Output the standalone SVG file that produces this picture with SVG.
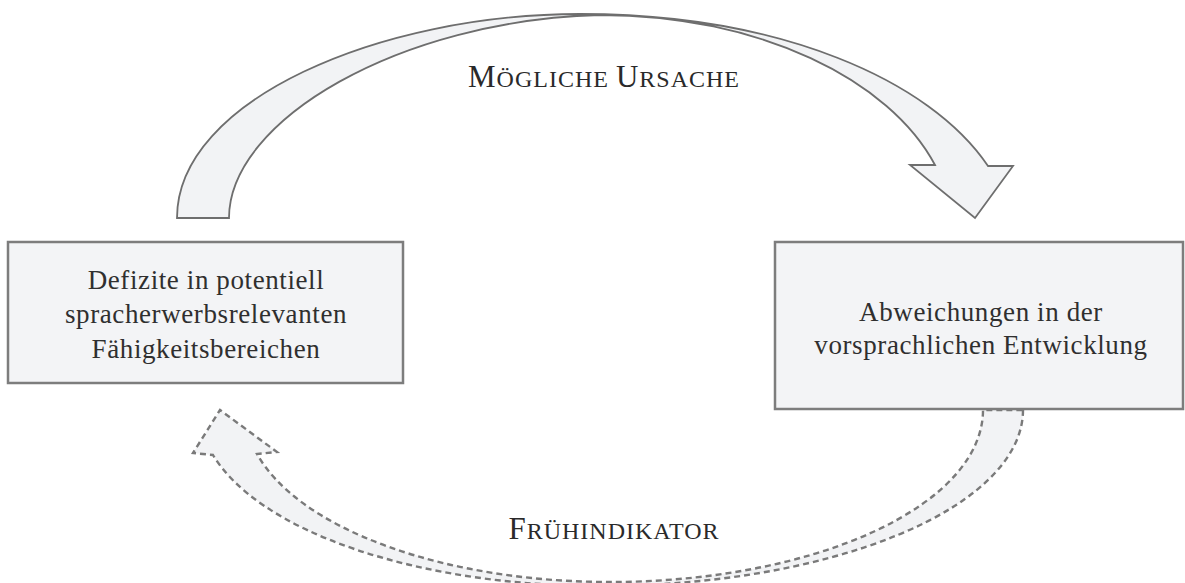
<svg xmlns="http://www.w3.org/2000/svg" width="1185" height="583" viewBox="0 0 1185 583">
  <style>
    .box { fill: #f3f4f6; stroke: #7d7d7d; stroke-width: 2.5; }
    .solid-arrow { fill: #f2f3f5; stroke: #6e6e6e; stroke-width: 1.8; stroke-linejoin: miter; }
    .dashed-arrow { fill: #f2f3f5; stroke: #7a7a7a; stroke-width: 2.4; stroke-dasharray: 6 4; stroke-linejoin: miter; }
    .node-text { font-family: "Liberation Serif", "Times New Roman", serif; font-size: 27px; fill: #2f2f2f; text-anchor: middle; letter-spacing: 0.6px; }
    .label { font-family: "Liberation Serif", "Times New Roman", serif; fill: #2a2a2a; text-anchor: middle; letter-spacing: 1px; }
    .cap { font-size: 31px; }
    .sc { font-size: 24px; }
  </style>

  <rect width="1185" height="583" fill="#ffffff"/>

  <g id="connectors">
    <!-- curved block arrow over the top: cause -->
    <path class="solid-arrow" d="M177,218 C177,100 380,14 580,14 C780,14 930,80 988,166 L1013,166 L975,218 L910,165 L935,165 C890,80 760,15 600,15 C400,20 229,120 229,218 Z"/>
    <!-- dashed curved block arrow underneath: early indicator -->
    <path class="dashed-arrow" d="M1023,410 A423,176 0 0 1 600,586 A400,176 0 0 1 213,455 L193,453 L220,410 L277,452 L257,454 A365,172 0 0 0 610,582 A373,172 0 0 0 983,410 Z"/>
  </g>

  <g id="label-ursache">
    <text class="label" x="604" y="87"><tspan class="cap">M</tspan><tspan class="sc">ÖGLICHE </tspan><tspan class="cap">U</tspan><tspan class="sc">RSACHE</tspan></text>
  </g>

  <g id="label-fruehindikator">
    <text class="label" x="614" y="539"><tspan class="cap">F</tspan><tspan class="sc">RÜHINDIKATOR</tspan></text>
  </g>

  <g id="node-defizite">
    <rect class="box" x="8" y="242" width="395" height="141"/>
    <text class="node-text" x="206" y="289">Defizite in potentiell</text>
    <text class="node-text" x="206" y="323">spracherwerbsrelevanten</text>
    <text class="node-text" x="206" y="358">Fähigkeitsbereichen</text>
  </g>

  <g id="node-abweichungen">
    <rect class="box" x="775" y="242" width="408" height="167"/>
    <text class="node-text" x="981" y="321">Abweichungen in der</text>
    <text class="node-text" x="981" y="354">vorsprachlichen Entwicklung</text>
  </g>
</svg>
